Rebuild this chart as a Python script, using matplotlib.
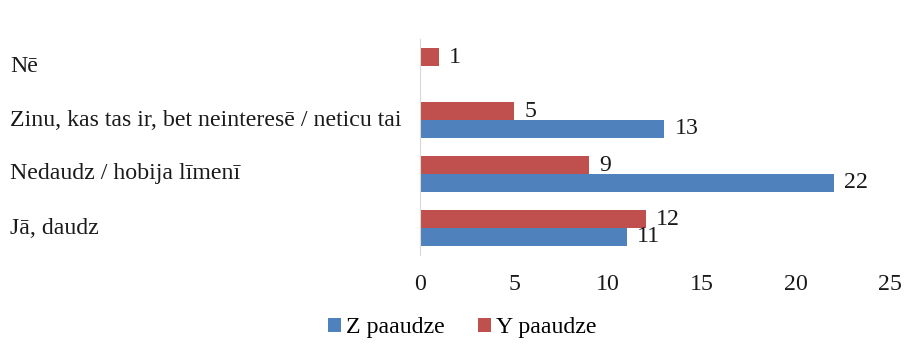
import matplotlib.pyplot as plt
import matplotlib.transforms as mtransforms
import numpy as np

plt.rcParams['font.family'] = 'serif'
plt.rcParams['font.serif'] = ['Liberation Serif', 'DejaVu Serif']

categories = ['Jā, daudz', 'Nedaudz / hobija līmenī',
              'Zinu, kas tas ir, bet neinteresē / neticu tai', 'Nē']
z_vals = [11, 22, 13, 0]
y_vals = [12, 9, 5, 1]
series_names = ['Z paaudze', 'Y paaudze']
x_ticks = [0, 5, 10, 15, 20, 25]

blue = '#4F81BD'
red = '#C0504D'
fs = 17.2
txt = '#1a1a1a'

fig = plt.figure(figsize=(9.05, 3.47), dpi=100)
ax = fig.add_axes([420/905, 1-255/347, (890-420)/905, (255-39)/347])

pos = np.arange(len(categories))
h = 0.33
bz = ax.barh(pos - h/2, z_vals, height=h, color=blue, label=series_names[0])
by = ax.barh(pos + h/2, y_vals, height=h, color=red, label=series_names[1])

# value labels just past the bar ends
for bars, vals in ((bz, z_vals), (by, y_vals)):
    for b, v in zip(bars, vals):
        if v > 0:
            ax.text(v + 0.55, b.get_y() + b.get_height()/2, str(v),
                    va='center', ha='left', fontsize=fs, color=txt)

ax.set_xlim(0, 25)
ax.set_ylim(-0.5, 3.5)
ax.set_xticks(x_ticks)
ax.tick_params(axis='x', length=0, pad=14, labelsize=fs, labelcolor=txt)
ax.set_yticks([])
for s in ('top', 'right', 'bottom'):
    ax.spines[s].set_visible(False)
ax.spines['left'].set_color('#d9d9d9')

# category names left-aligned at the figure edge
trans = mtransforms.blended_transform_factory(fig.transFigure, ax.transData)
for p, c in zip(pos, categories):
    ax.text(10/905, p, c, transform=trans, ha='left', va='center',
            fontsize=fs, color=txt)

fig.legend(handles=[bz, by], loc='center', bbox_to_anchor=(462/905, 1-328/347),
           ncol=2, frameon=False, fontsize=fs, handlelength=0.55,
           handleheight=0.55, handletextpad=0.2, columnspacing=1.4)

fig.savefig('out.png', dpi=100)
